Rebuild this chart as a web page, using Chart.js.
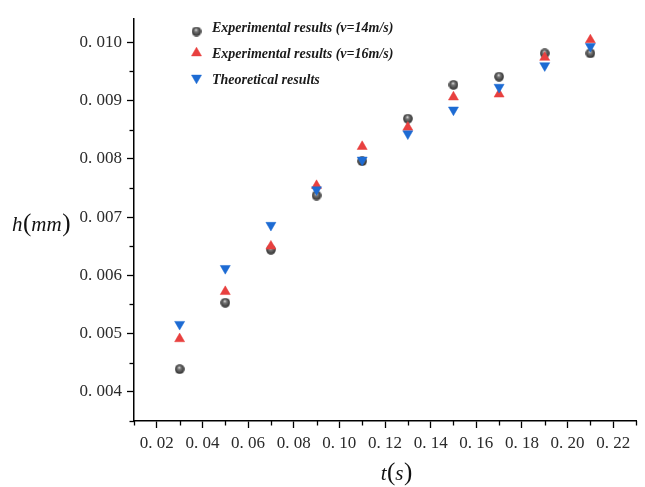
<!DOCTYPE html>
<html><head><meta charset="utf-8">
<script src="https://cdn.jsdelivr.net/npm/chart.js@4.4.0/dist/chart.umd.min.js"></script>
<style>html,body{margin:0;padding:0;background:#fff;}#wrap{width:645px;height:487px;position:relative;}</style>
</head><body><div id="wrap"><canvas id="c" width="645" height="487"></canvas></div>
<script>
const timeValues = [0.03, 0.05, 0.07, 0.09, 0.11, 0.13, 0.15, 0.17, 0.19, 0.21];
const exp14 = [0.00439, 0.00553, 0.00644, 0.00737, 0.00796, 0.00869, 0.00927, 0.00941, 0.00981, 0.00981];
const exp16 = [0.00491, 0.00572, 0.00650, 0.00754, 0.00821, 0.00854, 0.00906, 0.00911, 0.00974, 0.01004];
const theory = [0.00516, 0.00612, 0.00686, 0.00747, 0.00798, 0.00843, 0.00884, 0.00923, 0.00960, 0.00993];
const seriesLabels = ['Experimental results (v=14m/s)', 'Experimental results (v=16m/s)', 'Theoretical results'];
const xTicks = [0.02, 0.04, 0.06, 0.08, 0.10, 0.12, 0.14, 0.16, 0.18, 0.20, 0.22];
const xMinorTicks = [0.01, 0.03, 0.05, 0.07, 0.09, 0.11, 0.13, 0.15, 0.17, 0.19, 0.21, 0.23];
const yTicks = [0.004, 0.005, 0.006, 0.007, 0.008, 0.009, 0.010];
const yMinorTicks = [0.0035, 0.0045, 0.0055, 0.0065, 0.0075, 0.0085, 0.0095];
const xTitleParts = ['t', '(', 's', ')'];
const yTitleParts = ['h', '(', 'mm', ')'];

function makeSphere(d) {
  const c = document.createElement('canvas');
  c.width = d; c.height = d;
  const g = c.getContext('2d');
  const r = d / 2;
  const grad = g.createRadialGradient(r * 0.9, r * 0.65, 0.2, r, r, r);
  grad.addColorStop(0, '#e0e0e0');
  grad.addColorStop(0.3, '#777');
  grad.addColorStop(0.75, '#444');
  grad.addColorStop(1, '#2a2a2a');
  g.fillStyle = grad;
  g.beginPath(); g.arc(r, r, r - 0.2, 0, Math.PI * 2); g.fill();
  return c;
}
const sphere = makeSphere(10);
const RED = '#e8403f';
const BLUE = '#1d6bd3';

function pts(vals) { return timeValues.map((t, i) => ({ x: t, y: vals[i] })); }

const styles = [
  { pointStyle: sphere, radius: 5, rotation: 0, color: '#444' },
  { pointStyle: 'triangle', radius: 5.8, rotation: 0, color: RED },
  { pointStyle: 'triangle', radius: 5.8, rotation: 180, color: BLUE }
];

function drawTitle(ctx, parts, x, y, align) {
  const fonts = ['italic 21px "Liberation Serif"', '25px "Liberation Serif"'];
  const fontFor = p => (p === '(' || p === ')') ? fonts[1] : fonts[0];
  let total = 0;
  parts.forEach(p => { ctx.font = fontFor(p); total += ctx.measureText(p).width; });
  let cx = align === 'center' ? x - total / 2 : x;
  ctx.textAlign = 'left';
  ctx.textBaseline = 'alphabetic';
  parts.forEach(p => {
    ctx.font = fontFor(p);
    ctx.fillText(p, cx, y);
    cx += ctx.measureText(p).width + (p === '(' ? 0 : 0.5);
  });
}

const decor = {
  id: 'decor',
  afterDraw(chart) {
    const ctx = chart.ctx;
    const xs = chart.scales.x, ys = chart.scales.y;
    ctx.save();
    ctx.strokeStyle = '#000';
    ctx.lineWidth = 1.3;
    xMinorTicks.forEach(v => {
      const px = Math.round(xs.getPixelForValue(v)) + 0.5;
      ctx.beginPath(); ctx.moveTo(px, ys.bottom); ctx.lineTo(px, ys.bottom + 4.5); ctx.stroke();
    });
    yMinorTicks.forEach(v => {
      const py = Math.round(ys.getPixelForValue(v)) + 0.5;
      ctx.beginPath(); ctx.moveTo(xs.left, py); ctx.lineTo(xs.left - 4.5, py); ctx.stroke();
    });
    // axis titles
    ctx.fillStyle = '#111';
    drawTitle(ctx, yTitleParts, 12, 231, 'left');
    drawTitle(ctx, xTitleParts, 396, 480, 'center');
    // legend
    const rows = [31.5, 53, 78];
    const textRows = [28, 54, 80];
    ctx.font = 'bold italic 14px "Liberation Serif"';
    ctx.textAlign = 'left';
    ctx.textBaseline = 'middle';
    ctx.fillStyle = '#1a1a1a';
    seriesLabels.forEach((lab, i) => {
      const s = styles[i];
      ctx.save();
      ctx.fillStyle = s.color; ctx.strokeStyle = s.color; ctx.lineWidth = 0.5;
      Chart.helpers.drawPoint(ctx, { pointStyle: s.pointStyle, radius: s.radius, rotation: s.rotation, borderWidth: 0.5 }, 196.5, rows[i]);
      ctx.restore();
      ctx.fillText(lab, 212, textRows[i]);
    });
    ctx.restore();
  }
};

const tickFont = { family: 'Liberation Serif', size: 17 };

new Chart(document.getElementById('c'), {
  type: 'scatter',
  data: {
    datasets: [
      { label: seriesLabels[0], data: pts(exp14), pointStyle: sphere, pointRadius: 5, backgroundColor: '#444', borderColor: '#444', borderWidth: 0, order: 2 },
      { label: seriesLabels[1], data: pts(exp16), pointStyle: 'triangle', pointRadius: 5.8, backgroundColor: RED, borderColor: RED, borderWidth: 0.5, order: 1 },
      { label: seriesLabels[2], data: pts(theory), pointStyle: 'triangle', rotation: 180, pointRadius: 5.8, backgroundColor: BLUE, borderColor: BLUE, borderWidth: 0.5, order: 0 }
    ]
  },
  options: {
    responsive: false,
    animation: false,
    devicePixelRatio: 1,
    layout: { padding: { top: 19, right: 9, left: 0, bottom: 0 } },
    plugins: { legend: { display: false }, tooltip: { enabled: false } },
    scales: {
      x: {
        type: 'linear', min: 0.01, max: 0.23,
        afterBuildTicks: s => { s.ticks = xTicks.map(v => ({ value: v })); },
        afterFit: s => { s.height = 66; },
        border: { display: true, color: '#000', width: 1.5 },
        grid: { drawOnChartArea: false, drawTicks: true, tickLength: 7, tickColor: '#000', tickWidth: 1.3 },
        ticks: { font: tickFont, color: '#2a2a2a', padding: 5, maxRotation: 0, autoSkip: false,
          callback: v => '0. ' + String(Math.round(v * 100)).padStart(2, '0') }
      },
      y: {
        type: 'linear', min: 0.0035, max: 0.0104,
        afterBuildTicks: s => { s.ticks = yTicks.map(v => ({ value: v })); },
        afterFit: s => { s.width = 134; },
        border: { display: true, color: '#000', width: 1.5 },
        grid: { drawOnChartArea: false, drawTicks: true, tickLength: 7, tickColor: '#000', tickWidth: 1.3 },
        ticks: { font: tickFont, color: '#2a2a2a', padding: 5, autoSkip: false,
          callback: v => '0. ' + String(Math.round(v * 1000)).padStart(3, '0') }
      }
    }
  },
  plugins: [decor]
});
</script>
</body></html>
